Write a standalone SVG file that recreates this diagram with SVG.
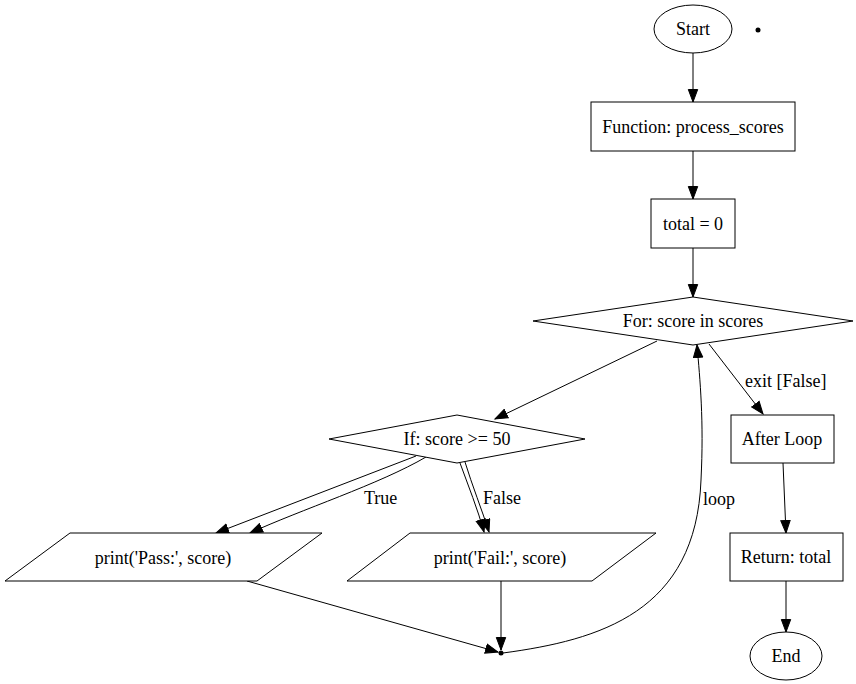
<svg xmlns="http://www.w3.org/2000/svg" width="856" height="684" viewBox="0 0 856 684">
<defs>
<marker id="ah" markerUnits="userSpaceOnUse" markerWidth="15" markerHeight="12" refX="13" refY="5.5" orient="auto">
<path d="M0.5,0.8 L13,5.5 L0.5,10.2 z" fill="#000" stroke="#000" stroke-width="1"/>
</marker>
<style>
.n{fill:#fff;stroke:#000;stroke-width:1}
.t{font-size:18px;fill:#000;text-anchor:middle}
.l{font-size:18px;fill:#000}
.e{fill:none;stroke:#000;stroke-width:1;marker-end:url(#ah)}
</style>
</defs>
<rect width="856" height="684" fill="#fff"/>
<g font-family="'Liberation Serif', 'Times New Roman', serif">
<g id="edges">
<path class="e" d="M693,53 L693,102"/>
<path class="e" d="M693,151 L693,199"/>
<path class="e" d="M693,248 L693,297"/>
<path class="e" d="M657,341 L495,419"/>
<path class="e" d="M709,344 L763,414"/>
<path class="e" d="M416,456 L216,533"/>
<path class="e" d="M426,457 C380,484 300,510 250,533"/>
<path class="e" d="M460,463 C468,485 478,510 484,532"/>
<path class="e" d="M465,462 C472,485 482,510 489,532"/>
<path class="e" d="M247,581 L498,652"/>
<path class="e" d="M501,581 L501,650"/>
<path class="e" d="M503,653 C600,640 696,612 701,480 C704,420 700,380 697,345"/>
<path class="e" d="M783,463 L786,533"/>
<path class="e" d="M786,581 L786,632"/>
<text class="l" x="745" y="387">exit [False]</text>
<text class="l" x="364" y="504">True</text>
<text class="l" x="483" y="504">False</text>
<text class="l" x="703" y="505">loop</text>
</g>
<g id="start"><ellipse class="n" cx="693" cy="29" rx="39" ry="24"/><text class="t" x="693" y="35">Start</text></g>
<g id="dot"><circle cx="758" cy="30" r="2.5" fill="#000"/></g>
<g id="func"><rect class="n" x="591" y="102" width="204" height="49"/><text class="t" x="693" y="133">Function: process_scores</text></g>
<g id="total"><rect class="n" x="651" y="199" width="84" height="49"/><text class="t" x="693" y="230">total = 0</text></g>
<g id="for"><polygon class="n" points="693,297 853,321 693,345 533,321"/><text class="t" x="693" y="327">For: score in scores</text></g>
<g id="if"><polygon class="n" points="457,415 585,439 457,463 329,439"/><text class="t" x="457" y="445">If: score &gt;= 50</text></g>
<g id="pass"><polygon class="n" points="70,533 322,533 257,581 5,581"/><text class="t" x="163" y="564">print('Pass:', score)</text></g>
<g id="fail"><polygon class="n" points="410,533 656,533 592,581 347,581"/><text class="t" x="500" y="564">print('Fail:', score)</text></g>
<g id="join"><circle cx="501" cy="653" r="2.5" fill="#000"/></g>
<g id="after"><rect class="n" x="731" y="415" width="103" height="48"/><text class="t" x="782" y="445">After Loop</text></g>
<g id="ret"><rect class="n" x="730" y="533" width="113" height="48"/><text class="t" x="786" y="563">Return: total</text></g>
<g id="end"><ellipse class="n" cx="786" cy="656" rx="36" ry="24"/><text class="t" x="786" y="662">End</text></g>
</g>
</svg>
